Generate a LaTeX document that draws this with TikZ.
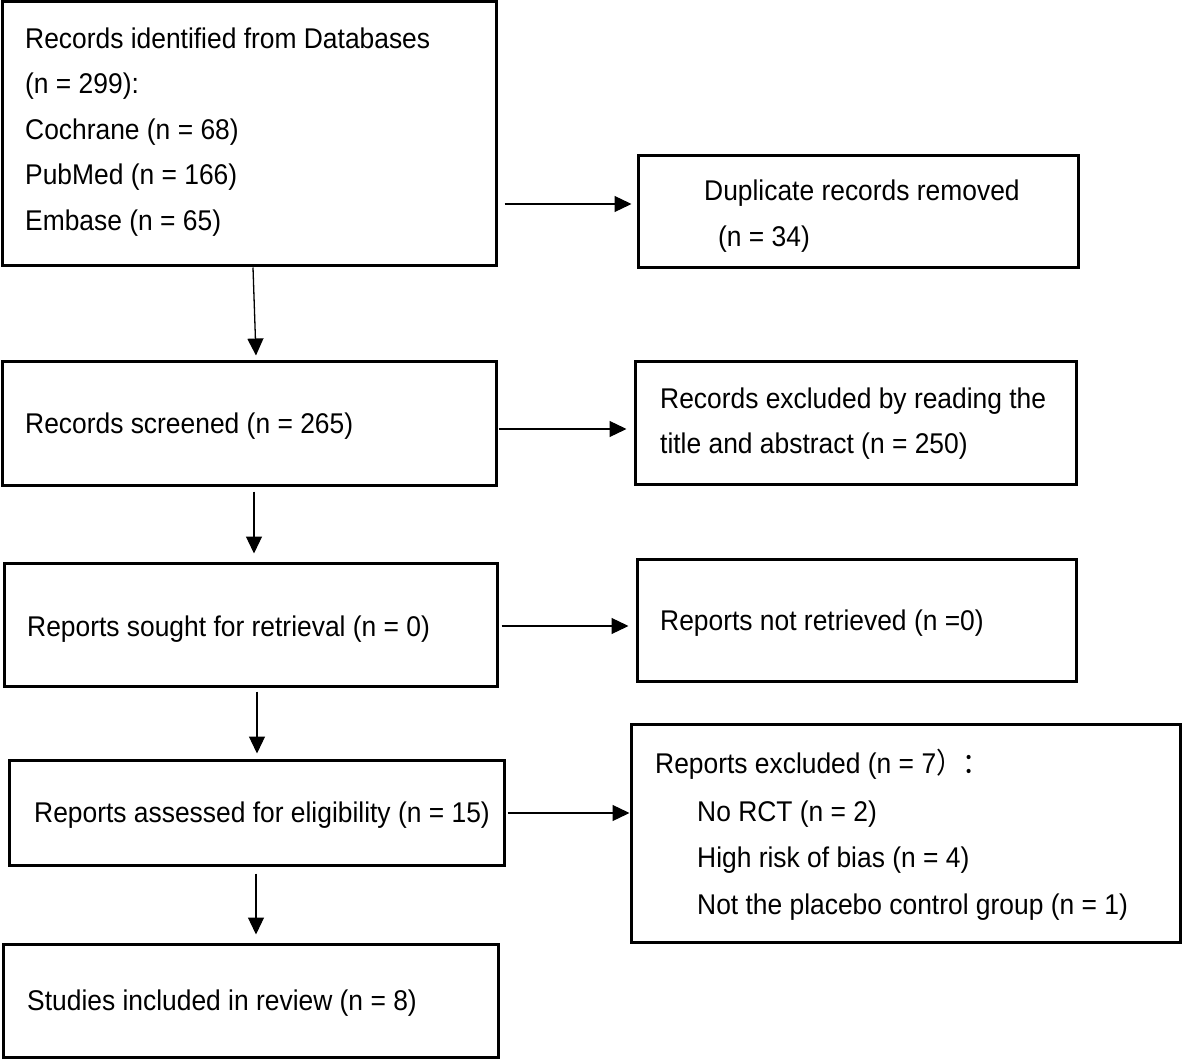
\documentclass[tikz,border=0pt]{standalone}
\usepackage{fontspec}
\usepackage{graphicx}
\setmainfont{Liberation Sans}
\newfontfamily\cjkfont{Noto Sans CJK SC}
\usetikzlibrary{arrows.meta}
\newcommand\tallstr[1]{\scalebox{1}[1.08]{#1}}
\begin{document}
\begin{tikzpicture}[x=1pt,y=-1pt,
  box/.style={draw, line width=3pt, inner sep=0pt},
  txt/.style={anchor=base west, inner sep=0pt, font=\fontsize{26.4}{31}\selectfont},
  arr/.style={line width=1.3pt, -{Triangle[length=17pt,width=16pt]}}]
\useasboundingbox (0,0) rectangle (1184,1059);
% boxes
\node[box, minimum width=494pt, minimum height=264pt] (B1) at (249,134) {};
\node[box, minimum width=440pt, minimum height=112pt] (D)  at (858,212) {};
\node[box, minimum width=494pt, minimum height=123pt] (B2) at (249,423.5) {};
\node[box, minimum width=441pt, minimum height=122pt] (E1) at (855.5,423) {};
\node[box, minimum width=493pt, minimum height=123pt] (B3) at (250.5,624.5) {};
\node[box, minimum width=439pt, minimum height=122pt] (NR) at (856.5,620) {};
\node[box, minimum width=495pt, minimum height=105pt] (B4) at (256.5,812.5) {};
\node[box, minimum width=549pt, minimum height=218pt] (E2) at (905.5,833) {};
\node[box, minimum width=495pt, minimum height=113pt] (B5) at (250.5,1000.5) {};
% texts
\node[txt] (t1a) at (25,48.5) {\tallstr{Records identified from Databases}};
\node[txt] (t1b) at (25,94) {\tallstr{(n = 299):}};
\node[txt] (t1c) at (25,139.5) {\tallstr{Cochrane (n = 68)}};
\node[txt] (t1d) at (25,185) {\tallstr{PubMed (n = 166)}};
\node[txt] (t1e) at (25,230.5) {\tallstr{Embase (n = 65)}};
\node[txt] (tDa) at (704,201) {\tallstr{Duplicate records removed}};
\node[txt] (tDb) at (718,247) {\tallstr{(n = 34)}};
\node[txt] (t2) at (25,433.5) {\tallstr{Records screened (n = 265)}};
\node[txt] (tE1a) at (660,408) {\tallstr{Records excluded by reading the}};
\node[txt] (tE1b) at (660,453) {\tallstr{title and abstract (n = 250)}};
\node[txt] (t3) at (27,636) {\tallstr{Reports sought for retrieval (n = 0)}};
\node[txt] (tNR) at (660,630) {\tallstr{Reports not retrieved (n =0)}};
\node[txt] (t4) at (34,822) {\tallstr{Reports assessed for eligibility (n = 15)}};
\node[txt] (tE2a) at (655,773) {\tallstr{Reports excluded (n = 7{\cjkfont ）：}}};
\node[txt] (tE2b) at (697,821) {\tallstr{No RCT (n = 2)}};
\node[txt] (tE2c) at (697,867) {\tallstr{High risk of bias (n = 4)}};
\node[txt] (tE2d) at (697,914) {\tallstr{Not the placebo control group (n = 1)}};
\node[txt] (t5) at (27,1010) {\tallstr{Studies included in review (n = 8)}};
% vertical arrows
\draw[arr] ([xshift=4pt]B1.south) -- ([xshift=7pt,yshift=5pt]B2.north);
\draw[arr] ([xshift=5pt,yshift=-5pt]B2.south) -- ([xshift=3.5pt,yshift=8pt]B3.north);
\draw[arr] ([xshift=6.5pt,yshift=-4pt]B3.south) -- ([xshift=0.5pt,yshift=5pt]B4.north);
\draw[arr] ([xshift=-0.5pt,yshift=-7pt]B4.south) -- ([xshift=5.5pt,yshift=8pt]B5.north);
% horizontal arrows
\draw[arr, shorten <=7pt, shorten >=5pt] (B1.east |- 0,204) -- (D.west |- 0,204);
\draw[arr, shorten <=1pt, shorten >=7pt] (B2.east |- 0,429) -- (E1.west |- 0,429);
\draw[arr, shorten <=3pt, shorten >=7pt] (B3.east |- 0,626) -- (NR.west |- 0,626);
\draw[arr, shorten <=2pt] (B4.east |- 0,813) -- (E2.west |- 0,813);
\end{tikzpicture}
\end{document}
